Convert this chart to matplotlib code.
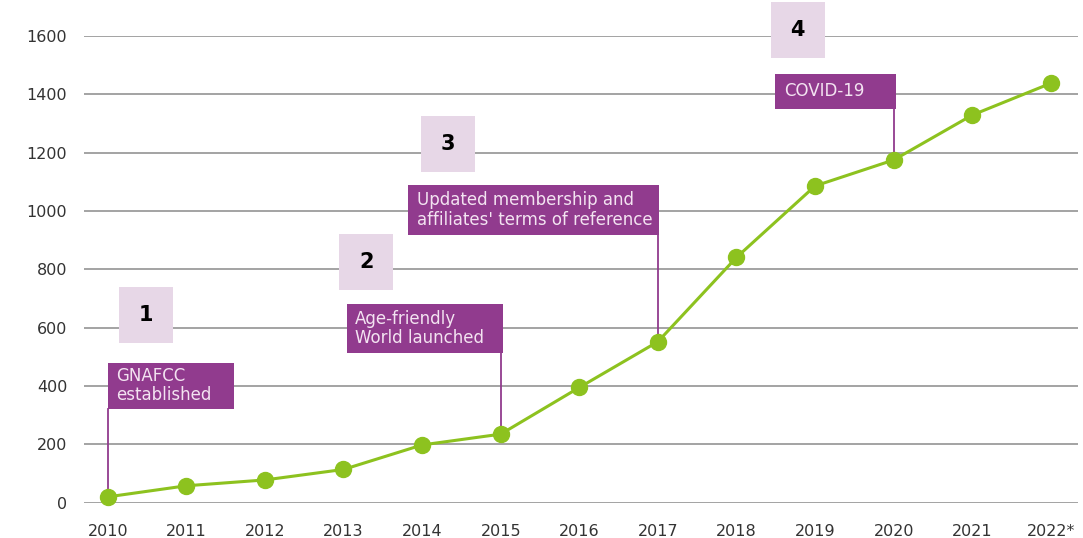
import matplotlib.pyplot as plt
from matplotlib.patches import Rectangle

# membership of the network per year
years = ['2010', '2011', '2012', '2013', '2014', '2015', '2016',
         '2017', '2018', '2019', '2020', '2021', '2022*']
members = [20, 58, 78, 114, 198, 235, 395, 552, 841, 1086, 1175, 1329, 1438]

# milestone flags: year index, text, box extent (x0, x1, y0, y1) in data units
events = [
    (0, 'GNAFCC\nestablished', (0.0, 1.61, 322, 480)),
    (5, 'Age-friendly\nWorld launched', (3.04, 5.03, 513, 681)),
    (7, "Updated membership and\naffiliates' terms of reference", (3.82, 7.02, 918, 1089)),
    (10, 'COVID-19', (8.49, 10.03, 1350, 1470)),
]
# numbered tags: label, centre x, centre y
tags = [('1', 0.49, 643), ('2', 3.29, 825), ('3', 4.33, 1231), ('4', 8.78, 1622)]

PURPLE = '#913B8E'
GREEN = '#8DC21F'
TAG_BG = '#E7D7E7'

fig = plt.figure(figsize=(10.83, 5.38), dpi=100)
ax = fig.add_axes([84 / 1083, 35.3 / 538, 994 / 1083, 466.7 / 538])
ax.set_xlim(-0.3015, 12.345)
ax.set_ylim(0, 1600)

for s in ax.spines.values():
    s.set_visible(False)
ax.set_yticks(range(0, 1601, 200))
ax.set_xticks(range(len(years)))
ax.set_xticklabels(years)
ax.tick_params(length=0, labelsize=11.5, colors='#333333')
ax.tick_params(axis='y', pad=12)
ax.tick_params(axis='x', pad=15)
ax.grid(axis='y', color='#949494', linewidth=1.2)
ax.set_axisbelow(True)

x = list(range(len(years)))

# event flags with a pole down to the point
for idx, label, (x0, x1, y0, y1) in events:
    ax.plot([idx, idx], [members[idx], y0], color=PURPLE, linewidth=1.3,
            zorder=2, clip_on=False)
    ax.add_patch(Rectangle((x0, y0), x1 - x0, y1 - y0, facecolor=PURPLE,
                           edgecolor='none', zorder=3, clip_on=False))
    ax.text(x0 + 0.11, (y0 + y1) / 2, label, ha='left', va='center',
            fontsize=12, color='#F3E3F1', linespacing=1.1, zorder=4)

ax.plot(x, members, color=GREEN, linewidth=2.2, marker='o', markersize=11.5,
        zorder=5, clip_on=False)

for label, cx, cy in tags:
    ax.add_patch(Rectangle((cx - 0.345, cy - 96), 0.69, 192, facecolor=TAG_BG,
                           edgecolor='none', zorder=3, clip_on=False))
    ax.text(cx, cy, label, ha='center', va='center', fontsize=15,
            fontweight='bold', color='black', zorder=4, family='DejaVu Sans')

fig.savefig('out.png', dpi=100, facecolor='white')
